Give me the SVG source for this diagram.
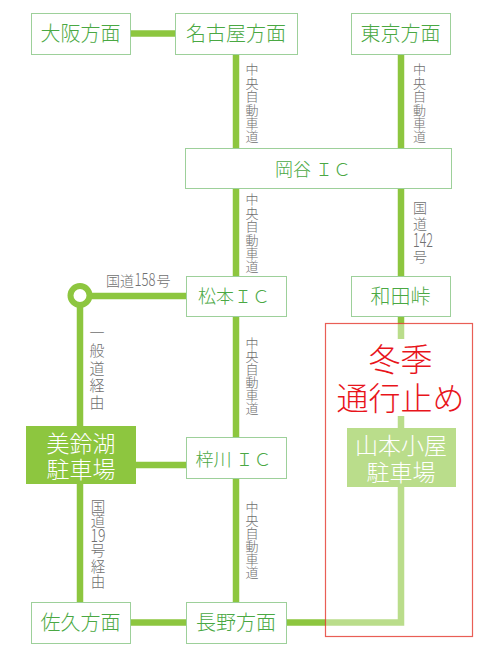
<svg xmlns="http://www.w3.org/2000/svg" width="480" height="649" viewBox="0 0 480 649">
<style>
.ln{fill:none;stroke:#8dc63f;stroke-width:6.5;stroke-linejoin:miter}
.box{fill:#fff;stroke:#9dd09a;stroke-width:1}
.fbox{fill:#8dc63f}
.t{font-family:"Noto Sans CJK JP","Noto Sans",sans-serif;font-weight:300;fill:#4aa843;font-size:20px;text-anchor:middle}
.ic{font-size:18px}
.wt{fill:#fff;font-size:23px}
.lb{font-family:"Noto Sans CJK JP","Noto Sans",sans-serif;font-weight:300;fill:#707070;font-size:13px;text-anchor:middle}
.red{font-family:"Noto Sans CJK JP","Noto Sans",sans-serif;font-weight:300;fill:#e8141b;font-size:32px;text-anchor:middle}
</style>
<rect width="480" height="649" fill="#fff"/>
<g id="connectors">
<path class="ln" d="M130,33.5H175"/>
<path class="ln" d="M236,54V148"/>
<path class="ln" d="M401,54V148"/>
<path class="ln" d="M236,188V276"/>
<path class="ln" d="M401,188V276"/>
<path class="ln" d="M236,316V437"/>
<path class="ln" d="M236,478V602"/>
<path class="ln" d="M92,296H186"/>
<path class="ln" d="M80,305V426"/>
<path class="ln" d="M136,465H186"/>
<path class="ln" d="M80,484V602"/>
<path class="ln" d="M130,622.5H186"/>
<path class="ln" d="M286,622.5H401V487"/>
<path class="ln" d="M401,316V339"/>
<path class="ln" d="M401,416V428"/>
<circle cx="80" cy="295.5" r="9.5" fill="#fff" stroke="#8dc63f" stroke-width="6"/>
</g>
<g id="labels">
<text class="lb"><tspan x="252" y="74.2">中</tspan><tspan x="252" y="87.6">央</tspan><tspan x="252" y="101.1">自</tspan><tspan x="252" y="114.5">動</tspan><tspan x="252" y="128">車</tspan><tspan x="252" y="141.4">道</tspan></text>
<text class="lb"><tspan x="419.5" y="74.2">中</tspan><tspan x="419.5" y="87.6">央</tspan><tspan x="419.5" y="101.1">自</tspan><tspan x="419.5" y="114.5">動</tspan><tspan x="419.5" y="128">車</tspan><tspan x="419.5" y="141.4">道</tspan></text>
<text class="lb"><tspan x="252" y="204.2">中</tspan><tspan x="252" y="217.6">央</tspan><tspan x="252" y="231.1">自</tspan><tspan x="252" y="244.5">動</tspan><tspan x="252" y="258">車</tspan><tspan x="252" y="271.4">道</tspan></text>
<text class="lb" style="font-size:14px"><tspan x="420" y="213">国</tspan><tspan x="420" y="228.5">道</tspan><tspan x="423" y="247" style="font-size:19px" textLength="20" lengthAdjust="spacingAndGlyphs">142</tspan><tspan x="420" y="261.5">号</tspan></text>
<text class="lb" style="font-size:14px;text-anchor:start"><tspan x="106" y="286">国道</tspan><tspan x="134.5" y="286" style="font-size:18px" textLength="21" lengthAdjust="spacingAndGlyphs">158</tspan><tspan x="156.5" y="286">号</tspan></text>
<text class="lb" style="font-size:15px"><tspan x="97" y="338">一</tspan><tspan x="97" y="355.8">般</tspan><tspan x="97" y="373.5">道</tspan><tspan x="97" y="391">経</tspan><tspan x="97" y="408">由</tspan></text>
<text class="lb"><tspan x="252" y="348.2">中</tspan><tspan x="252" y="361.2">央</tspan><tspan x="252" y="374.3">自</tspan><tspan x="252" y="387.3">動</tspan><tspan x="252" y="400.4">車</tspan><tspan x="252" y="413.4">道</tspan></text>
<text class="lb" style="font-size:14.5px"><tspan x="98" y="511.5">国</tspan><tspan x="98" y="525.5">道</tspan><tspan x="98" y="542" style="font-size:18px" textLength="15" lengthAdjust="spacingAndGlyphs">19</tspan><tspan x="98" y="556">号</tspan><tspan x="98" y="572">経</tspan><tspan x="98" y="587">由</tspan></text>
<text class="lb"><tspan x="252" y="512.2">中</tspan><tspan x="252" y="525.2">央</tspan><tspan x="252" y="538.3">自</tspan><tspan x="252" y="551.3">動</tspan><tspan x="252" y="564.4">車</tspan><tspan x="252" y="577.4">道</tspan></text>
</g>
<g id="osaka"><rect class="box" x="31.5" y="13.5" width="99" height="41"/><text class="t" x="80.5" y="41">大阪方面</text></g>
<g id="nagoya"><rect class="box" x="175.5" y="13.5" width="122" height="41"/><text class="t" x="236" y="41">名古屋方面</text></g>
<g id="tokyo"><rect class="box" x="351.5" y="13.5" width="99" height="41"/><text class="t" x="400.5" y="41">東京方面</text></g>
<g id="okaya"><rect class="box" x="185.5" y="148.5" width="266" height="40"/><text class="t ic" x="313" y="175.5">岡谷 ＩＣ</text></g>
<g id="matsumoto"><rect class="box" x="186.5" y="276.5" width="100" height="40"/><text class="t ic" x="234" y="303">松本ＩＣ</text></g>
<g id="wada"><rect class="box" x="351.5" y="276.5" width="99" height="40"/><text class="t" x="400.5" y="303.5">和田峠</text></g>
<g id="misuzuko"><rect class="fbox" x="26" y="426" width="110" height="58"/><text class="t wt" x="81" y="451.5">美鈴湖</text><text class="t wt" x="81" y="477.5">駐車場</text></g>
<g id="azusa"><rect class="box" x="186.5" y="437.5" width="100" height="41"/><text class="t ic" x="233.5" y="465.5">梓川 ＩＣ</text></g>
<g id="yamamoto"><rect class="fbox" x="347" y="428" width="109" height="59"/><text class="t wt" x="401" y="453.5">山本小屋</text><text class="t wt" x="401" y="480.5">駐車場</text></g>
<g id="saku"><rect class="box" x="31.5" y="602.5" width="99" height="41"/><text class="t" x="80.5" y="630">佐久方面</text></g>
<g id="nagano"><rect class="box" x="186.5" y="602.5" width="100" height="41"/><text class="t" x="236" y="630">長野方面</text></g>
<g id="closure">
<rect x="325.5" y="323.5" width="147" height="313" fill="#fff" fill-opacity="0.4" stroke="#e3362c" stroke-opacity="0.8" stroke-width="1.2"/>
<text class="red" x="400.5" y="371">冬季</text>
<text class="red" x="400.5" y="410">通行止め</text>
</g>
</svg>
